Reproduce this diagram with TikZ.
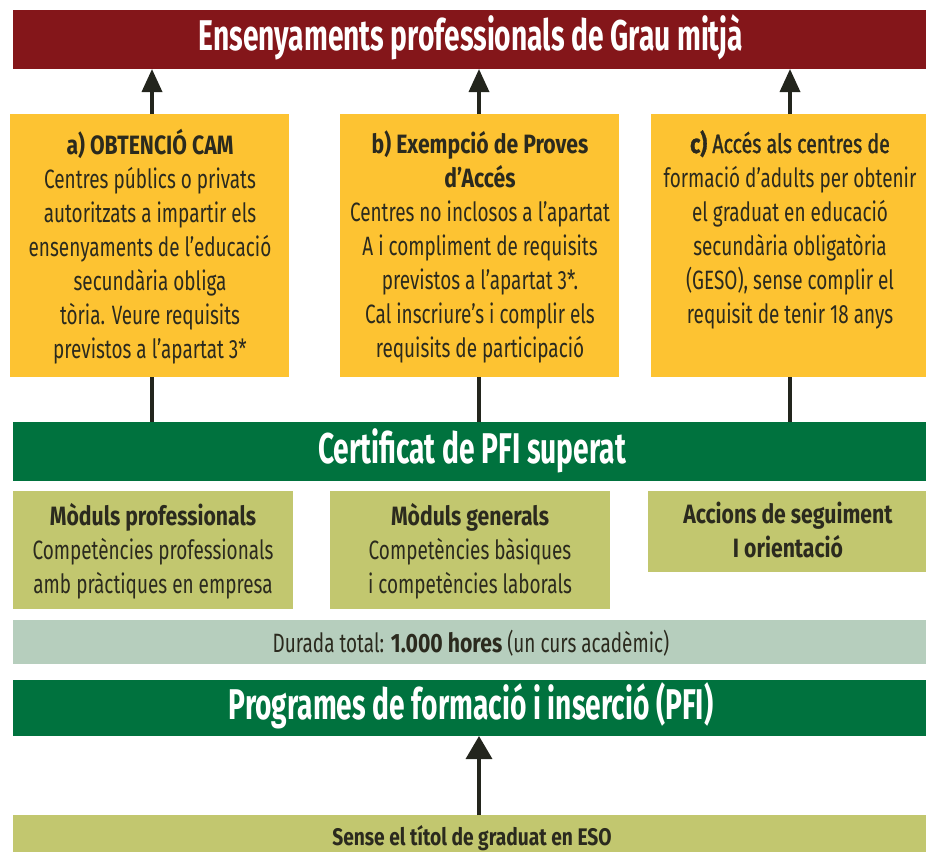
\documentclass[tikz,border=0pt]{standalone}
\usepackage{fontspec}
\setmainfont{Fira Sans}[FakeStretch=0.715, BoldFeatures={FakeStretch=0.80}]
\newfontfamily\medfont{Fira Sans}[FakeStretch=0.74,FakeBold=1.2, BoldFeatures={FakeStretch=0.80}]
\newfontfamily\headfont{Fira Sans}[FakeStretch=0.655]
\usetikzlibrary{arrows.meta}
\definecolor{darkred}{HTML}{84161A}
\definecolor{ybox}{HTML}{FDC332}
\definecolor{gbar}{HTML}{00723E}
\definecolor{olive}{HTML}{C2C76F}
\definecolor{greyg}{HTML}{B6CEBD}
\definecolor{ink}{HTML}{2B2A1E}
\definecolor{arrowc}{HTML}{23251D}
\tikzset{
  panel/.style={anchor=north west, inner sep=0pt, outer sep=0pt, draw=none},
  bigtext/.style={anchor=base, inner sep=0pt, text=white, font=\headfont\fontsize{43}{46}\selectfont\bfseries},
  bodytext/.style={anchor=north, inner sep=0pt, text=ink, align=center, font=\fontsize{26.5}{34}\selectfont},
  linetext/.style={anchor=base, inner sep=0pt, text=ink, font=\fontsize{26.5}{34}\selectfont},
  arr/.style={draw=arrowc, line width=3.5pt, -{Triangle[length=23pt,width=20pt]}},
  barr/.style={draw=arrowc, line width=3.5pt, -{Triangle[length=23pt,width=26pt]}},
  plainline/.style={draw=arrowc, line width=3.5pt},
}
\begin{document}
\begin{tikzpicture}[x=1pt,y=-1pt]
\useasboundingbox (0,0) rectangle (926,852);
% title bar
\node[panel, fill=darkred, minimum width=913pt, minimum height=59pt] (title) at (13,10) {};
\node[bigtext] (titlet) at (471,50) {Ensenyaments professionals de Grau mitjà};
% yellow boxes
\node[panel, fill=ybox, minimum width=279pt, minimum height=263pt] (ya) at (10,114) {};
\node[panel, fill=ybox, minimum width=279pt, minimum height=263pt] (yb) at (340,114) {};
\node[panel, fill=ybox, minimum width=275pt, minimum height=263pt] (yc) at (651,114) {};
\node[bodytext] (yat) at (150,129) {\strut\textbf{a) OBTENCIÓ CAM}\\Centres públics o privats\\autoritzats a impartir els\\ensenyaments de l’educació\\secundària obliga\\tòria. Veure requisits\\previstos a l’apartat 3*};
\node[bodytext] (ybt) at (480,129) {\strut\textbf{b) Exempció de Proves}\\\textbf{d’Accés}\\Centres no inclosos a l’apartat\\A i compliment de requisits\\previstos a l’apartat 3*.\\Cal inscriure’s i complir els\\requisits de participació};
\node[bodytext] (yct) at (790,129) {\medfont\strut\textbf{c)} Accés als centres de\\formació d’adults per obtenir\\el graduat en educació\\secundària obligatòria\\(GESO), sense complir el\\requisit de tenir 18 anys};
% certificat bar
\node[panel, fill=gbar, minimum width=913pt, minimum height=59pt] (cert) at (13,422) {};
\node[bigtext] (certt) at (472,463) {Certificat de PFI superat};
% module boxes
\node[panel, fill=olive, minimum width=280pt, minimum height=118pt] (m1) at (13,491) {};
\node[panel, fill=olive, minimum width=280pt, minimum height=118pt] (m2) at (330,491) {};
\node[panel, fill=olive, minimum width=278pt, minimum height=81pt] (m3) at (648,491) {};
\node[bodytext] (m1t) at (153,501) {\strut\textbf{Mòduls professionals}\\Competències professionals\\amb pràctiques en empresa};
\node[bodytext] (m2t) at (470,501) {\strut\textbf{Mòduls generals}\\Competències bàsiques\\i competències laborals};
\node[bodytext] (m3t) at (788,499) {\strut\textbf{Accions de seguiment}\\\textbf{I orientació}};
% duration bar
\node[panel, fill=greyg, minimum width=913pt, minimum height=44pt] (dur) at (13,620) {};
\node[linetext] (durt) at (471,652) {Durada total: \textbf{1.000 hores} (un curs acadèmic)};
% PFI bar
\node[panel, fill=gbar, minimum width=913pt, minimum height=56pt] (pfi) at (13,680) {};
\node[bigtext] (pfit) at (471,719) {Programes de formació i inserció (PFI)};
% bottom bar
\node[panel, fill=olive, minimum width=913pt, minimum height=37pt] (eso) at (13,815) {};
\node[linetext, font=\fontsize{24}{28}\selectfont\bfseries] (esot) at (472,845) {Sense el títol de graduat en ESO};
% connectors
\coordinate (xa) at (152,0);
\coordinate (xb) at (479,0);
\coordinate (xc) at (790,0);
\coordinate (xd) at (479,0);
\draw[arr] (xa |- ya.north) -- (xa |- title.south);
\draw[arr] (xb |- yb.north) -- (xb |- title.south);
\draw[arr] (xc |- yc.north) -- (xc |- title.south);
\draw[plainline] (xa |- ya.south) -- (xa |- cert.north);
\draw[plainline] (xb |- yb.south) -- (xb |- cert.north);
\draw[plainline] (xc |- yc.south) -- (xc |- cert.north);
\draw[barr] (xd |- eso.north) -- (xd |- pfi.south);
\end{tikzpicture}
\end{document}
